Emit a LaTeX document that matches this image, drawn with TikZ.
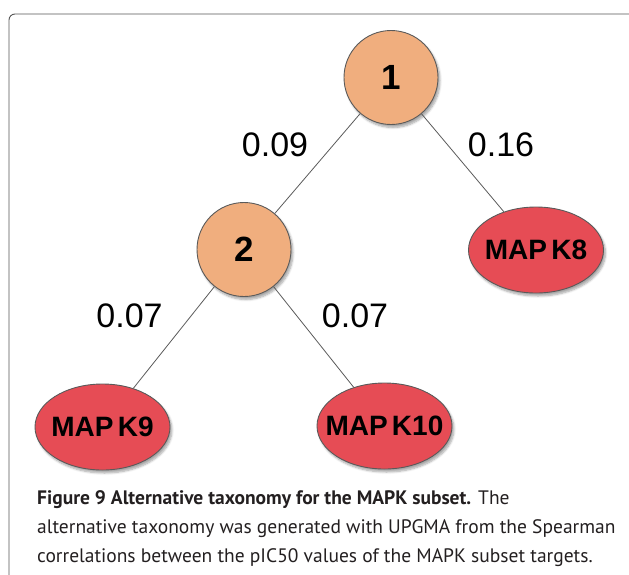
\documentclass[tikz,border=0pt]{standalone}
\usepackage{fontspec}
\setmainfont{Liberation Sans}
\newfontfamily\capfont{PT Sans}
\usetikzlibrary{shapes.geometric,shadows.blur}
\definecolor{inner}{HTML}{F0AE7E}
\definecolor{leaf}{HTML}{E64C55}
\definecolor{edgegray}{HTML}{5A5A5A}
\definecolor{framegray}{HTML}{555555}
\definecolor{captext}{HTML}{231F20}
\tikzset{
  base/.style={draw=edgegray, line width=0.9pt, inner sep=0pt,
    blur shadow={shadow xshift=2pt, shadow yshift=-3pt, shadow blur steps=6, shadow opacity=35}},
  innernode/.style={base, circle, fill=inner, minimum size=94pt,
    font=\fontsize{35}{35}\selectfont\bfseries},
  leafnode/.style={base, ellipse, fill=leaf, minimum width=135pt, minimum height=86pt,
    font=\fontsize{28}{28}\selectfont\bfseries},
  weight/.style={font=\fontsize{34}{34}\selectfont, inner sep=0pt},
  branch/.style={draw=edgegray, line width=0.8pt},
  capline/.style={anchor=base west, inner sep=0pt, text=captext,
    font=\capfont\fontsize{19.5}{22}\selectfont}
}
\newcommand{\leaftext}[1]{\makebox[0pt]{#1}}
\newcommand{\nsp}{\hspace{0.15em}}
\begin{document}
\begin{tikzpicture}[x=1pt,y=-1pt]
\useasboundingbox (0,0) rectangle (629,574);
\draw[framegray, line width=0.9pt, rounded corners=6pt] (9,590) -- (9,14) -- (650,14);
\node[innernode] (n1) at (391,77.5) {1};
\node[innernode] (n2) at (244,249.5) {2};
\node[leafnode] (k8) at (536,250) {\leaftext{MAP\nsp K8}};
\node[leafnode] (k9) at (102.5,427) {\leaftext{MAP\nsp K9}};
\node[leafnode] (k10) at (384.5,426) {\leaftext{MAP\nsp K10}};
\draw[branch] (n1) -- (n2);
\draw[branch] (n1) -- (k8);
\draw[branch] (n2) -- (k9);
\draw[branch] (n2) -- (k10);
\node[weight] (w1) at (275,145) {0.09};
\node[weight] (w2) at (501,145) {0.16};
\node[weight] (w3) at (129.5,316) {0.07};
\node[weight] (w4) at (355,316) {0.07};
\node[capline] (c1) at (37,504) {\textbf{Figure 9 Alternative taxonomy for the MAPK subset.} The};
\node[capline] (c2) at (37,533) {alternative taxonomy was generated with UPGMA from the Spearman};
\node[capline] (c3) at (37,562) {correlations between the pIC50 values of the MAPK subset targets.};
\end{tikzpicture}
\end{document}
